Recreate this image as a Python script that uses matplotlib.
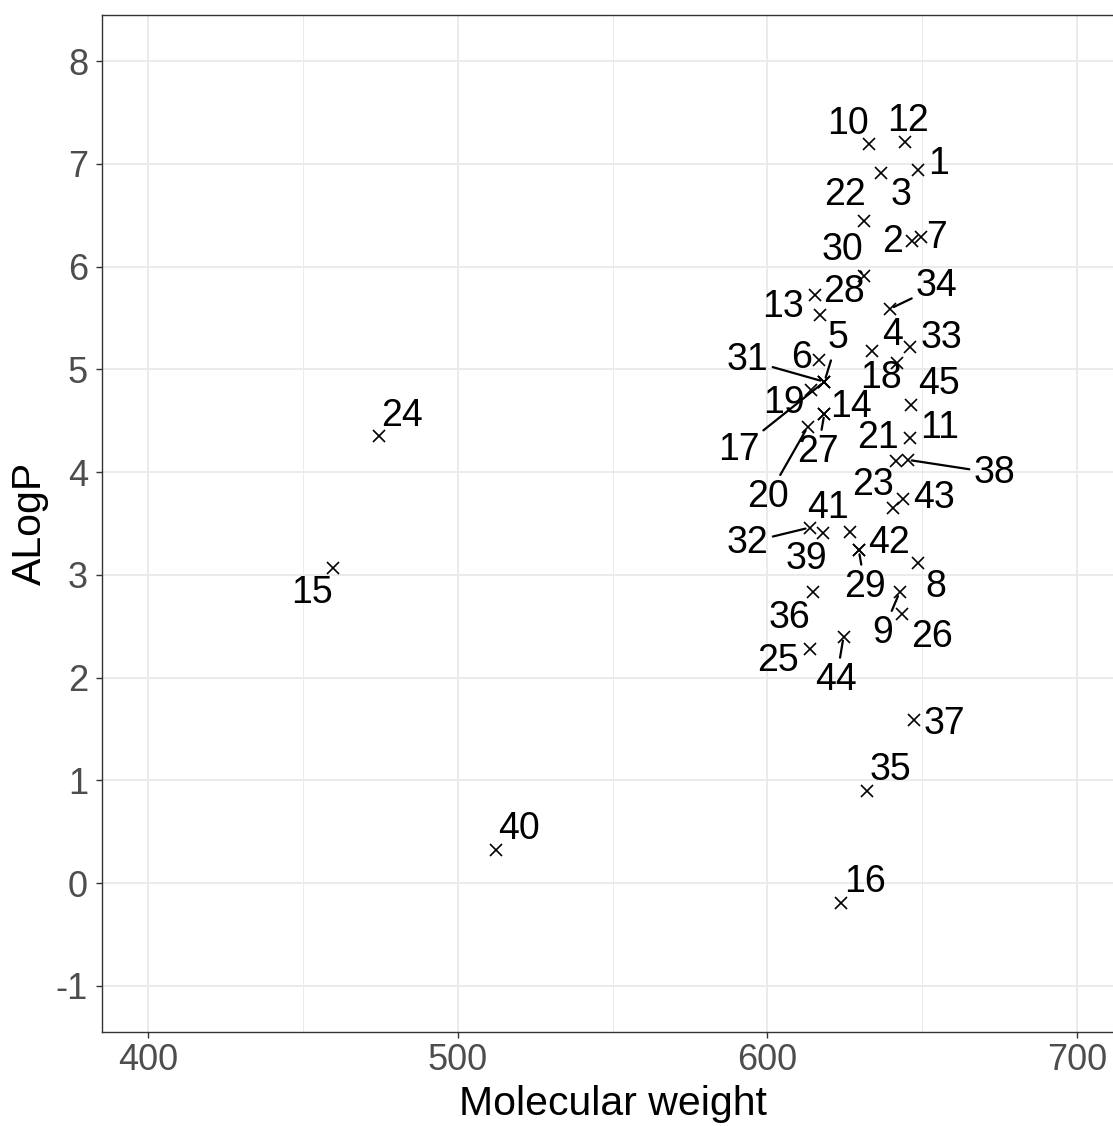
import matplotlib
matplotlib.use("Agg")
import matplotlib.pyplot as plt
import numpy as np

plt.rcParams['font.family'] = ['Liberation Sans', 'DejaVu Sans']
plt.rcParams['axes.unicode_minus'] = False

# compound id, molecular weight, ALogP
ids = list(range(1, 46))
mw = [648.6, 646.6, 636.8, 633.8, 618.4, 616.8, 649.7, 648.6, 642.7, 632.7,
      645.9, 644.4, 617.0, 618.4, 459.5, 623.6, 618.4, 641.8, 614.1, 613.0,
      641.5, 631.3, 640.5, 474.6, 613.6, 643.4, 618.4, 615.4, 629.5, 631.3,
      618.4, 613.6, 646.1, 639.6, 632.3, 614.6, 647.2, 645.3, 617.9, 512.4,
      626.7, 629.5, 643.7, 624.6, 646.4]
alogp = [6.94, 6.25, 6.91, 5.18, 4.88, 5.09, 6.29, 3.12, 2.83, 7.19,
         4.33, 7.21, 5.53, 4.57, 3.07, -0.19, 4.88, 5.06, 4.80, 4.44,
         4.11, 6.44, 3.65, 4.35, 2.28, 2.62, 4.57, 5.72, 3.24, 5.91,
         4.88, 3.46, 5.22, 5.59, 0.90, 2.83, 1.59, 4.12, 3.41, 0.32,
         3.42, 3.24, 3.74, 2.40, 4.65]

# label offsets in pixels (dx, dy up), and which ones get a leader segment
lab_dx = [21, -19.6, 19.7, 20, 13.3, -18.3, 15, 18.4, -17.3, -21,
          30, 3, -37.4, 26.7, -21, 24, -85.7, -15.6, -26.7, -40,
          -18.4, -19.3, -20, 23, -31.7, 30.4, -6.7, 29.3, 6.4, -22.3,
          -76.7, -61.7, 31, 46.6, 23, -23.3, 31, 86.7, -16, 23,
          -22.4, 30.7, 31.7, -7.3, 28.3]
lab_dy = [6, -1, -21.7, 15.7, 43.4, 1.7, -1.6, -24, -40.6, 20.7,
          10, 21.7, 8.3, 6.6, -25, 21, -68.3, -15, -13.3, -70,
          22.7, 26.7, 23, 20, -12.4, -23, -38.4, 3.3, -36.6, 26.4,
          21.7, -15, 8.4, 22.3, 21, -25.6, -4, -13.3, -26.7, 21,
          23.4, 7.4, 1, -43.3, 21.7]
seg = {5, 9, 17, 20, 27, 29, 30, 31, 32, 34, 38, 44}

fig = plt.figure(figsize=(11.13, 11.26), dpi=100)
ax = fig.add_axes([102 / 1113, 94 / 1126, 1021.4 / 1113, 1017 / 1126])

ax.set_xlim(385, 715)
ax.set_ylim(-1.45, 8.45)
ax.set_xticks([400, 500, 600, 700])
ax.set_xticks([450, 550, 650], minor=True)
ax.set_yticks(np.arange(-1, 9))

ax.grid(True, which='major', color='#EBEBEB', linewidth=1.4)
ax.grid(True, which='minor', axis='x', color='#EBEBEB', linewidth=0.7)
ax.set_axisbelow(True)

for s in ax.spines.values():
    s.set_color('#333333')
    s.set_linewidth(1.0)

ax.tick_params(which='major', length=4, width=1.0, color='#333333',
               labelsize=26, labelcolor='#4D4D4D')
ax.tick_params(axis='x', which='major', pad=4)
ax.tick_params(axis='y', which='major', pad=6)
ax.tick_params(which='minor', length=0)

ax.plot(mw, alogp, linestyle='none', marker='x', color='black',
        markersize=9, markeredgewidth=1.2)

for i, x, y, dx, dy in zip(ids, mw, alogp, lab_dx, lab_dy):
    arrow = None
    if i in seg:
        arrow = dict(arrowstyle='-', color='black', lw=1.6, shrinkA=1, shrinkB=3)
    ax.annotate(str(i), (x, y), xytext=(dx, dy), textcoords='offset pixels',
                ha='center', va='center', fontsize=27, color='black',
                arrowprops=arrow)

ax.set_xlabel('Molecular weight', fontsize=29.5, labelpad=5)
ax.set_ylabel('ALogP', fontsize=29.5, labelpad=5)

fig.savefig('out.png', dpi=100)
